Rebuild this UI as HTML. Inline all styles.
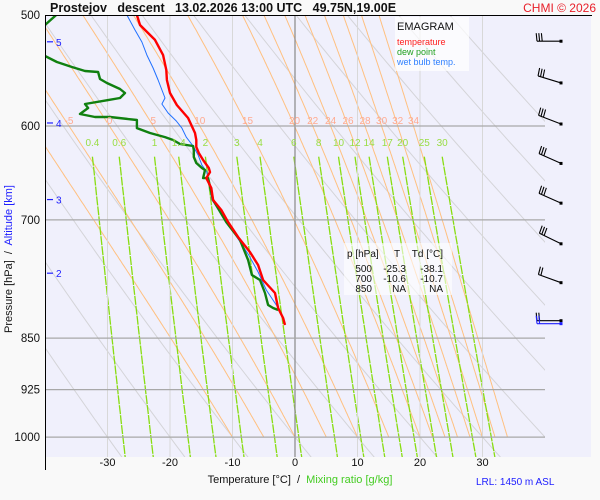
<!DOCTYPE html>
<html><head><meta charset="utf-8">
<style>
html,body{margin:0;padding:0;background:#f9f9f9;}
svg{display:block;font-family:"Liberation Sans",sans-serif;}
</style></head>
<body>
<svg id="chart" width="600" height="500" viewBox="0 0 600 500">
<defs><clipPath id="plotclip"><rect x="45" y="15" width="500" height="442"/></clipPath></defs>
<rect x="0" y="0" width="600" height="500" fill="#f9f9f9"/>
<rect x="45" y="15" width="546" height="442" fill="#f0f0fc"/>
<g id="grid" clip-path="url(#plotclip)"></g>
<g id="profiles" clip-path="url(#plotclip)"></g>
<g id="labels"></g>
<g id="barbs"></g>
<g id="axes"></g>
<text x="50" y="12" font-size="12.5" font-weight="bold" fill="#111" xml:space="preserve">Prostejov   descent   13.02.2026 13:00 UTC   49.75N,19.00E</text>
<text x="596" y="12" font-size="12" fill="#e8202a" text-anchor="end">CHMI © 2026</text>
<line x1="45" y1="15.5" x2="592" y2="15.5" stroke="#000" stroke-width="1"/>
<g>
<rect x="395" y="17" width="74" height="54" fill="#fff" fill-opacity="0.7"/>
<text x="397" y="30" font-size="11" fill="#111">EMAGRAM</text>
<text x="397" y="45" font-size="9" fill="#ff2020">temperature</text>
<text x="397" y="55" font-size="9" fill="#20a020">dew point</text>
<text x="397" y="65" font-size="9" fill="#3080ff">wet bulb temp.</text>
</g>
<g font-size="10" fill="#111">
<rect x="344" y="243" width="108" height="52" fill="#fff" fill-opacity="0.6"/>
<text x="347" y="257">p [hPa]</text>
<text x="397" y="257" text-anchor="middle">T</text>
<text x="443" y="257" text-anchor="end">Td [°C]</text>
<g id="tablerows"></g>
</g>
<text x="300" y="483" font-size="11" text-anchor="middle" xml:space="preserve"><tspan fill="#111">Temperature [°C]  /  </tspan><tspan fill="#44cc22">Mixing ratio [g/kg]</tspan></text>
<text x="476" y="485" font-size="10" fill="#2020ff">LRL: 1450 m ASL</text>
<text transform="translate(12,259) rotate(-90)" font-size="11" text-anchor="middle" xml:space="preserve"><tspan fill="#111">Pressure [hPa]  /  </tspan><tspan fill="#2020ff">Altitude [km]</tspan></text>
</svg>
<script>
// ---- data ----
const tempP = [500,508.3,520.9,534,547.3,556.3,568.3,579.7,592.1,606.9,613.9,621.0,627.2,634.4,642.8,647.1,653.5,664.3,677.5,688.7,702.5,720.0,738.0,753.8,772.6,789.3,809.0,822.4,831.9];
const tempT = [-25.3,-24.8,-22.4,-21.1,-20.6,-20.5,-20.0,-18.9,-17.1,-16.0,-15.8,-15.8,-15.4,-14.7,-13.8,-13.6,-14.2,-13.4,-13.1,-11.8,-10.7,-9.1,-7.2,-5.9,-5.1,-3.2,-2.7,-1.9,-1.6];
const dewP = [500,508.3,522,534.8,540.1,544.6,548.2,549.1,555.4,559.1,564.6,568.3,573.0,575.0,578.7,582.5,588.3,591.2,591.2,594.1,602.0,606.9,611.0,613.9,618.0,620.0,624.1,631.3,637.6,642.8,644.9,653.5,653.5,677.5,702.5,723.5,747.6,766.3,772.6,789.3,805.0,809.0,811.6];
const dewT = [-38.2,-40,-46,-40,-38.1,-35.7,-33.6,-31.5,-31.2,-30.1,-28.0,-27.2,-28.0,-29.9,-33.6,-33.1,-34.4,-32.0,-29.6,-25.3,-25.3,-23.2,-20.8,-19.5,-18.4,-16.3,-16.2,-16.2,-15.8,-14.9,-14.4,-14.7,-13.9,-13.1,-11.0,-8.8,-7.5,-6.9,-5.6,-4.8,-4.3,-3.5,-2.7];
const wetP = [500,512.5,522.7,534,545.5,556.3,573.0,578.7,587.3,595.1,602.0,611.1,620.0,629.2,639.7,647.1,677.5,702.5,723.5,741.6,762.5,785.4,805.0,811.6];
const wetT = [-26.9,-25.6,-24.5,-23.7,-22.7,-21.9,-20.8,-21.3,-20.3,-19.0,-18.1,-17.4,-16.3,-15.5,-14.9,-14.1,-13.3,-10.9,-9.0,-7.4,-5.9,-4.6,-3.0,-2.4];
const isotherms = [-30,-20,-10,0,10,20,30];
const xTickLabels = ["-30","-20","-10","0","10","20","30"];
const pressureLevels = [600,700,850,925,1000];
const pressureLabels = [500,600,700,850,925,1000];
const altitudeKm = [5,4,3,2];
const altitudeP = [522.5,597,677,764];
const dryAdiabats = [-30,-20,-10,0,10,20,30,40,50,60,70,80,90];
const moistAdiabats = [-10,-5,0,5,10,15,20,22,24,26,28,30,32,34];
const moistLabels = ["-10","-5","0","5","10","15","20","22","24","26","28","30","32","34"];
const mixRatios = [0.4,0.6,1,1.4,2,3,4,6,8,10,12,14,17,20,25,30];
const mixLabels = ["0.4","0.6","1","1.4","2","3","4","6","8","10","12","14","17","20","25","30"];
const windP = [522,559,598,638,681,728,776,826];
const windDir = [270,287,291,294,294,296,290,270];
const windSpd = [30,30,30,30,30,30,20,20];
const tableP = ["500","700","850"];
const tableT = ["-25.3","-10.6","NA"];
const tableTd = ["-38.1","-10.7","NA"];

// ---- axes functions ----
const X0=295, KX=6.25, Y0=15, KY=609;
const xT = t => X0 + KX*t;
const yP = p => Y0 + KY*Math.log(p/500);
const NS='http://www.w3.org/2000/svg';
function mk(tag, parent, attrs){const e=document.createElementNS(NS,tag);for(const k in attrs)e.setAttribute(k,attrs[k]);parent.appendChild(e);return e;}
const grid=document.getElementById('grid'), prof=document.getElementById('profiles'), lab=document.getElementById('labels'), axes=document.getElementById('axes'), barbs=document.getElementById('barbs');

function es(tc){return 6.112*Math.exp(17.67*tc/(tc+243.5));}
dryAdiabats.forEach(th=>{
  const pts=[];for(let p=480;p<=1080;p+=10){const T=(th+273.15)*Math.pow(p/1000,0.2857)-273.15;pts.push(xT(T).toFixed(1)+','+yP(p).toFixed(1));}
  const e=mk('polyline',grid,{points:pts.join(' '),fill:'none',stroke:'#d4d4d8','stroke-width':1});
  
  
});
function moist(th){
  const out=[];let T=th+273.15;
  for(let p=1000;p>=470;p-=2){out.push([p,T-273.15]);
    const e=es(T-273.15), rs=0.622*e/(p-e), L=2.5e6, Rd=287, cp=1004;
    const dTdp=(Rd*T+L*rs)/(p*(cp+L*L*rs*0.622/(Rd*T*T)));T-=2*dTdp;}
  return out;
}
moistAdiabats.forEach((th,i)=>{
  const m=moist(th);
  const e=mk('polyline',grid,{points:m.map(a=>xT(a[1]).toFixed(1)+','+yP(a[0]).toFixed(1)).join(' '),fill:'none',stroke:'#ffc080','stroke-width':1});
  
  
  const at=m.find(a=>a[0]<=600);const lx=xT(at[1]);
  if(lx>50&&lx<540){const t=mk('text',lab,{x:lx.toFixed(1),y:124,'font-size':10,fill:'#ffaa90','text-anchor':'middle'});t.textContent=moistLabels[i];
  
  }
});
function tw(w,p){const e=w*p/(622+w);const l=Math.log(e/6.112);return 243.5*l/(17.67-l);}
mixRatios.forEach((w,i)=>{
  const pts=[];for(let p=631;p<=1080;p+=10)pts.push(xT(tw(w,p)).toFixed(1)+','+yP(p).toFixed(1));
  const e=mk('polyline',grid,{points:pts.join(' '),fill:'none',stroke:'#88dd11','stroke-width':1.3,'stroke-dasharray':'9 1'});
  
  
  const t=mk('text',lab,{x:xT(tw(w,631)).toFixed(1),y:146,'font-size':10,fill:'#99dd44','text-anchor':'middle'});t.textContent=mixLabels[i];
  
  
});
isotherms.forEach((t,i)=>{
  const e=mk('line',grid,{x1:xT(t),x2:xT(t),y1:15,y2:457,stroke:t===0?'#909090':'#d8d8d8','stroke-width':t===0?1.3:1});
  
  
  const tx=mk('text',axes,{x:xT(t),y:466,'font-size':11,fill:'#111','text-anchor':'middle'});tx.textContent=xTickLabels[i];
  
  
});
pressureLevels.forEach(p=>{
  const e=mk('line',grid,{x1:45,x2:545,y1:yP(p),y2:yP(p),stroke:'#a8a8a8','stroke-width':1.3});
  
  
});
pressureLabels.forEach(p=>{
  const t=mk('text',axes,{x:40,y:(yP(p)+4).toFixed(1),'font-size':11.5,fill:'#111','text-anchor':'end'});t.textContent=p;
  
  
});
altitudeKm.forEach((k,i)=>{
  const y=yP(altitudeP[i]);
  const l=mk('line',axes,{x1:47,x2:53,y1:y,y2:y,stroke:'#2020ff','stroke-width':1.2});
  
  
  const t=mk('text',axes,{x:56,y:(y+4).toFixed(1),'font-size':10,fill:'#2020ff'});t.textContent=k;
  
  
});
const ax=mk('line',axes,{x1:45.5,x2:45.5,y1:15,y2:470,stroke:'#000','stroke-width':1});


function profLine(P,T,color,w,name){
  const e=mk('polyline',prof,{points:P.map((p,i)=>xT(T[i]).toFixed(1)+','+yP(p).toFixed(1)).join(' '),fill:'none',stroke:color,'stroke-width':w,'stroke-linejoin':'round'});
  
  
}
profLine(wetP,wetT,'#2070ff',1,'wet-bulb-line');
profLine(dewP,dewT,'#108010',2.4,'dew-point-line');
profLine(tempP,tempT,'#ff0000',2.4,'temperature-line');
function barb(p,dir,spd,color){
  const x0=561,y0=yP(p),r=dir*Math.PI/180,ux=Math.sin(r),uy=-Math.cos(r);
  const g=mk('g',barbs,{stroke:color,'stroke-width':1.1,fill:'none'});
  
  
  const x1=x0+ux*24,y1=y0+uy*24;
  mk('line',g,{x1:x0,y1:y0,x2:x1,y2:y1});
  mk('rect',g,{x:x0-1.5,y:y0-1.5,width:3,height:3,fill:color,stroke:'none'});
  const px=-uy,py=ux;
  const n=Math.floor(spd/10);
  for(let k=0;k!==n;k++){const bx=x1-ux*k*2.6,by=y1-uy*k*2.6;
    mk('line',g,{x1:bx,y1:by,x2:bx+px*8+ux*0.8,y2:by+py*8+uy*0.8});}
}
windP.forEach((p,i)=>barb(p,windDir[i],windSpd[i],'#000'));
barb(830,270,20,'#2020ff');
const tr=document.getElementById('tablerows');
tableP.forEach((p,i)=>{
  const y=272+i*10;
  [[372,p],[406,tableT[i]],[443,tableTd[i]]].forEach(c=>{const t=mk('text',tr,{x:c[0],y:y,'text-anchor':'end'});t.textContent=c[1];
  
  });
});
</script>
</body></html>
